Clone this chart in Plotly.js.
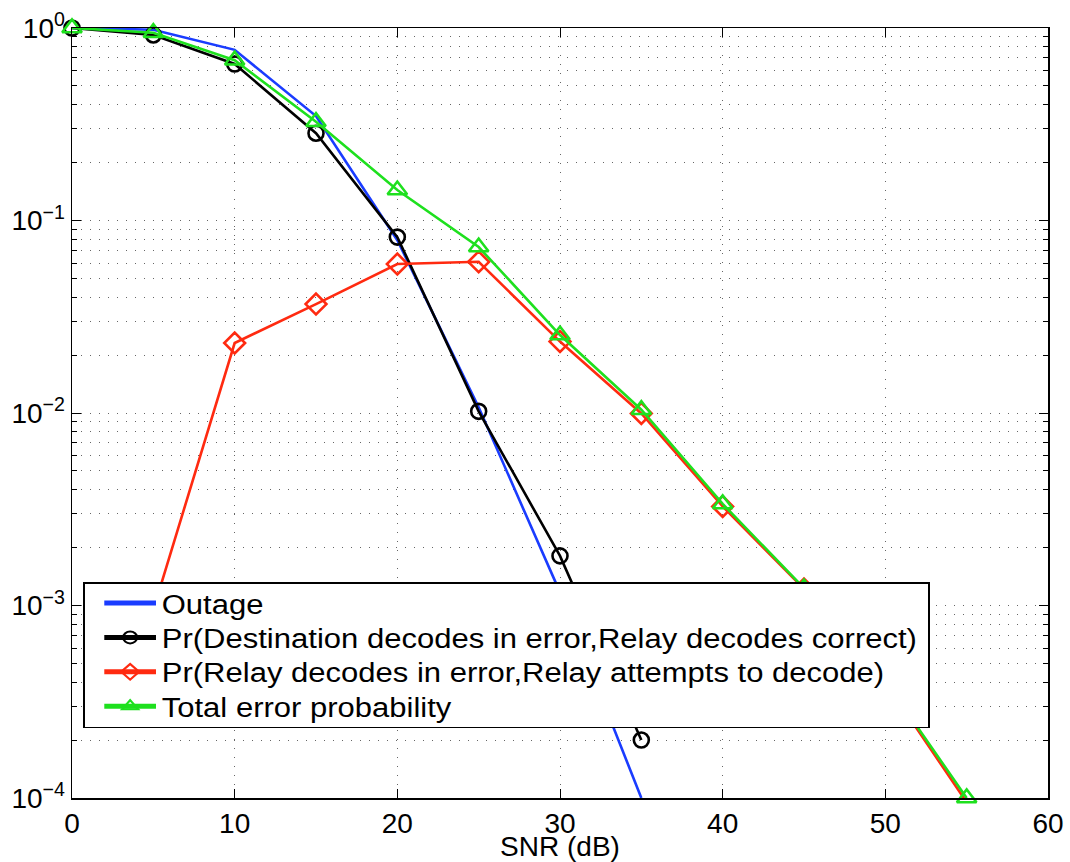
<!DOCTYPE html>
<html><head><meta charset="utf-8">
<script src="https://cdn.plot.ly/plotly-3.0.1.min.js"></script>
<style>html,body{margin:0;padding:0;background:#fff}</style>
</head><body>
<div id="chart" style="width:1070px;height:862px"></div>
<script>
// Data
const outageX = [0, 5, 10, 15, 20, 25, 30, 35];
const outage = [1.0, 0.98, 0.77, 0.349, 0.079, 0.0107, 0.00117, 0.0001];

const destX = [0, 5, 10, 15, 20, 25, 30, 35];
const destErr = [1.0, 0.92, 0.65, 0.284, 0.082, 0.0102, 0.00181, 0.0002];

const relayX = [5, 10, 15, 20, 25, 30, 35, 40, 45, 50, 55];
const relayErr = [0.00095, 0.0231, 0.0368, 0.0594, 0.061, 0.0235, 0.00995, 0.00327, 0.00122, 0.0004, 0.000095];

const totalX = [0, 5, 10, 15, 20, 25, 30, 35, 40, 45, 50, 55];
const totalErr = [1.0, 0.945, 0.68, 0.326, 0.144, 0.0728, 0.0254, 0.0104, 0.00337, 0.00123, 0.000406, 0.0001];

const seriesNames = [
  'Outage',
  'Pr(Destination decodes in error,Relay decodes correct)',
  'Pr(Relay decodes in error,Relay attempts to decode)',
  'Total error probability'
];

const yTickVals = [1e-4, 1e-3, 1e-2, 1e-1, 1];
const yTickText = ['10<sup>−4</sup>', '10<sup>−3</sup>', '10<sup>−2</sup>', '10<sup>−1</sup>', '10<sup>0</sup>'];
const xTickVals = [0, 10, 20, 30, 40, 50, 60];
const xTickText = ['0', '10', '20', '30', '40', '50', '60'];

// minor tick positions (2..9 within each decade)
const yMinor = [];
for (let e = -4; e < 0; e++) {
  for (let m = 2; m <= 9; m++) yMinor.push(m * Math.pow(10, e));
}

const FONT = 'Liberation Sans, Arial, Helvetica, sans-serif';
const cBlue = '#1a3cff', cBlack = '#000000', cRed = '#ff2a10', cGreen = '#1ee01e';

const traces = [
  {x: outageX, y: outage, name: seriesNames[0], mode: 'lines',
   line: {color: cBlue, width: 2.6}, cliponaxis: false},
  {x: destX, y: destErr, name: seriesNames[1], mode: 'lines+markers',
   line: {color: cBlack, width: 2.6},
   marker: {symbol: 'circle-open', size: 15, color: cBlack, line: {width: 2.6, color: cBlack}}, cliponaxis: false},
  {x: relayX, y: relayErr, name: seriesNames[2], mode: 'lines+markers',
   line: {color: cRed, width: 2.6},
   marker: {symbol: 'diamond-open', size: 16, color: cRed, line: {width: 2.6, color: cRed}}, cliponaxis: false},
  {x: totalX, y: totalErr, name: seriesNames[3], mode: 'lines+markers',
   line: {color: cGreen, width: 2.6},
   marker: {symbol: 'triangle-up-open', size: 17, color: cGreen, line: {width: 2.6, color: cGreen}}, cliponaxis: false}
];

const LEG_BW = 1.5;
const layout = {
  width: 1070, height: 862,
  margin: {l: 72, r: 22, t: 28, b: 64, pad: 0},
  paper_bgcolor: '#fff', plot_bgcolor: '#fff',
  font: {family: FONT, size: 28, color: '#000'},
  showlegend: true,
  legend: {
    x: 0.0113, y: 0.2805, xanchor: 'left', yanchor: 'top',
    bgcolor: '#fff', bordercolor: '#000', borderwidth: LEG_BW,
    font: {family: FONT, size: 27, color: '#000'},
    itemwidth: 45, itemsizing: 'constant', tracegroupgap: 0
  },
  xaxis: {
    range: [0, 60], tickmode: 'array', tickvals: xTickVals, ticktext: xTickText,
    ticks: 'inside', ticklen: 9, tickwidth: 1, tickcolor: '#000',
    showline: true, linecolor: '#000', linewidth: 1.5, mirror: 'ticks',
    showgrid: true, gridcolor: '#666', gridwidth: 1, griddash: '1px,8px',
    zeroline: false,
    tickfont: {family: FONT, size: 28, color: '#000'},
    title: {text: 'SNR (dB)', font: {family: FONT, size: 28, color: '#000'}, standoff: 0},
    automargin: false
  },
  yaxis: {
    type: 'log', range: [-4, 0], tickmode: 'array', tickvals: yTickVals, ticktext: yTickText,
    ticks: 'inside', ticklen: 9, tickwidth: 1, tickcolor: '#000',
    showline: true, linecolor: '#000', linewidth: 1.5, mirror: 'ticks',
    showgrid: true, gridcolor: '#666', gridwidth: 1, griddash: '1px,8px',
    zeroline: false,
    tickfont: {family: FONT, size: 28, color: '#000'},
    minor: {tickmode: 'array', tickvals: yMinor, ticks: 'inside', ticklen: 5, tickcolor: '#000',
            showgrid: true, gridcolor: '#666', gridwidth: 1, griddash: '1px,8px'},
    automargin: false
  }
};

Plotly.newPlot('chart', traces, layout, {displayModeBar: false, staticPlot: true}).then(function (gd) {
  // Mimic the MATLAB legend: wide Helvetica glyphs and tight row spacing.
  const lg = gd.querySelector('g.legend');
  if (!lg) return;
  const items = lg.querySelectorAll('g.traces');
  const ROW0 = 21, ROW_STEP = 34.4, SHIFT = 12;
  const BOX_LEFT = 83, BOX_RIGHT = 930, TEXT_END = 917, BOX_H = 146;
  let maxEnd = 0;
  items.forEach(function (tr, i) {
    const m = /translate\(\s*([-\d.eE]+)[\s,]+([-\d.eE]+)\s*\)/.exec(tr.getAttribute('transform') || '');
    const x0 = m ? parseFloat(m[1]) : LEG_BW;
    tr.setAttribute('transform', 'translate(' + (x0 + SHIFT) + ',' + (ROW0 + i * ROW_STEP) + ')');
    const txt = tr.querySelector('text.legendtext');
    if (txt) {
      const tx = parseFloat(txt.getAttribute('x')) || 0;
      maxEnd = Math.max(maxEnd, x0 + SHIFT + tx + txt.getComputedTextLength());
    }
  });
  const s = maxEnd > 0 ? (TEXT_END - BOX_LEFT) / maxEnd : 1.2;
  const bg = lg.querySelector('rect.bg');
  if (bg) {
    bg.setAttribute('height', BOX_H - LEG_BW);
    bg.setAttribute('width', (BOX_RIGHT - BOX_LEFT) / s - LEG_BW);
  }
  // remove legend clipping so the widened entries are not cut off
  lg.querySelectorAll('[clip-path]').forEach(function (n) { n.removeAttribute('clip-path'); });
  lg.setAttribute('transform', (lg.getAttribute('transform') || '') + ' scale(' + s + ',1)');
});
</script>
</body></html>
